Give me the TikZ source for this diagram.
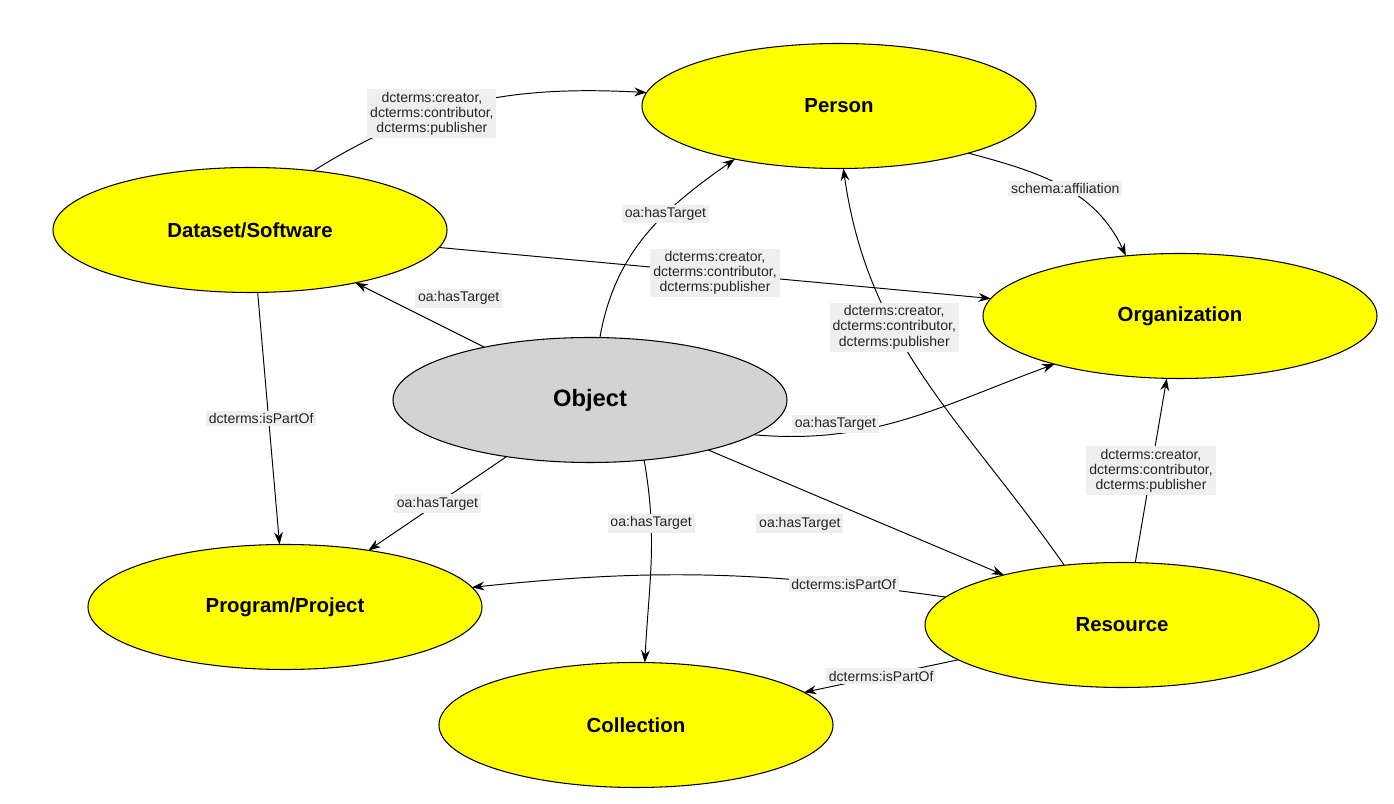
\documentclass[tikz,border=0pt]{standalone}
\usepackage{fontspec}
\setmainfont{Liberation Sans}
\usetikzlibrary{arrows.meta, shapes.geometric}
\definecolor{cYellow}{HTML}{FFFF00}
\definecolor{cGray}{HTML}{D3D3D3}
\definecolor{cLabel}{HTML}{EFEFEF}

\begin{document}
\begin{tikzpicture}[
    cls/.style={ellipse, draw, line width=0.6pt, fill=cYellow, minimum width=7.88cm,
      minimum height=2.5cm, inner sep=0pt, outer sep=0pt,
      font=\fontsize{11.6}{14}\selectfont\bfseries},
    link/.style={draw, line width=0.55pt, -{Stealth[length=7pt, width=5pt]}},
    lbl/.style={fill=cLabel, inner sep=1.6pt, align=center, text=black!85,
      font=\fontsize{8}{8.6}\selectfont}]
  \useasboundingbox (0,0) rectangle (27.88,16.08);
  % classes
  \foreach \id/\x/\y/\txt in {
      person/16.78/13.96/Person, dataset/5.00/11.48/{Dataset/Software},
      org/23.60/9.76/Organization, program/5.70/3.94/{Program/Project},
      collection/12.72/1.58/Collection, resource/22.44/3.58/Resource}
    \node[cls] (\id) at (\x,\y) {\txt};
  \node[cls, fill=cGray, font=\fontsize{13.5}{16}\selectfont\bfseries] (object) at (11.80,8.08) {Object};
  % links
  \draw[link] (dataset.43) to[out=32, in=177]
    node[lbl, pos=0.37] {dcterms:creator,\\dcterms:contributor,\\dcterms:publisher} (person.176);
  \draw[link] (object.81) to[out=80, in=215] node[lbl, pos=0.63] {oa:hasTarget} (person.207);
  \draw[link] (person.340) to[out=-15, in=115] node[lbl, pos=0.52] {schema:affiliation} (org.132);
  \draw[link] (dataset) -- node[lbl] {dcterms:creator,\\dcterms:contributor,\\dcterms:publisher} (org);
  \draw[link] (object) -- node[lbl, pos=0.2, yshift=0.72cm] {oa:hasTarget} (dataset);
  \draw[link] (resource.134) to[out=125, in=278]
    node[lbl, pos=0.64] {dcterms:creator,\\dcterms:contributor,\\dcterms:publisher} (person.274);
  \draw[link] (object.-12) to[out=-5, in=200] node[lbl, pos=0.25, yshift=0.2cm] {oa:hasTarget} (org.201);
  \draw[link] (resource.78) -- node[lbl] {dcterms:creator,\\dcterms:contributor,\\dcterms:publisher} (org.258);
  \draw[link] (dataset.277) -- node[lbl, xshift=-0.15cm] {dcterms:isPartOf} (program.95);
  \draw[link] (object) -- node[lbl] {oa:hasTarget} (program);
  \draw[link] (object.-48) to[out=-80, in=87] node[lbl, pos=0.3] {oa:hasTarget} (collection.82);
  \draw[link] (object) -- node[lbl, pos=0.31, yshift=-0.7cm] {oa:hasTarget} (resource);
  \draw[link] (resource.171) to[out=172, in=6] node[lbl, pos=0.2] {dcterms:isPartOf} (program.6);
  \draw[link] (resource.192) -- node[lbl] {dcterms:isPartOf} (collection.11);
\end{tikzpicture}
\end{document}
